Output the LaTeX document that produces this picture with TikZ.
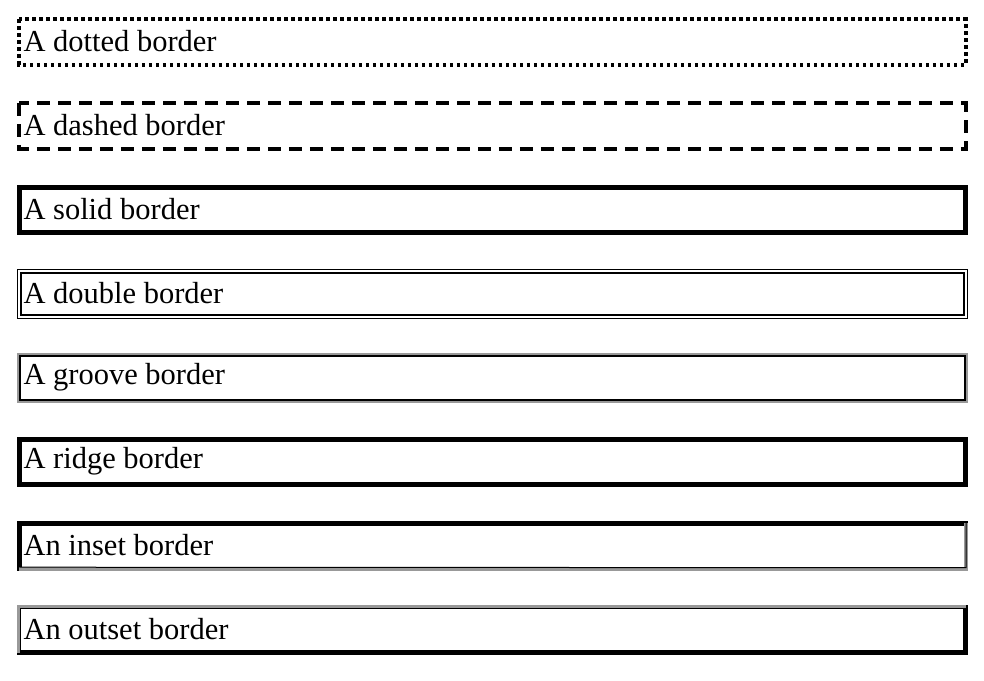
\documentclass[tikz,border=0pt]{standalone}
\usepackage{fontspec}
\setmainfont{Liberation Serif}
\usetikzlibrary{positioning}

\tikzset{
  cssbox/.style={minimum width=946pt, minimum height=45pt, inner sep=0pt},
  boxtext/.style={anchor=west, font=\fontsize{30.5}{32}\selectfont, inner sep=0pt},
  grayline/.style={draw=black!40}
}

\begin{document}
\begin{tikzpicture}[x=1pt,y=-1pt]
\useasboundingbox (0,0) rectangle (984,680);
\foreach \i in {0,...,7} {
  \node[cssbox] (b\i) at (492.5,{42+84*\i}) {};
}
\draw[line width=4pt, dash pattern=on 3.5pt off 3.5pt] (b0.north west) rectangle (b0.south east);
\draw[line width=4pt, dash pattern=on 13pt off 8pt] (b1.north west) rectangle (b1.south east);
\draw[line width=5pt] (b2.north west) rectangle (b2.south east);
\draw[line width=1.6pt, double, double distance=1.8pt] (b3.north west) rectangle (b3.south east);
% groove
\draw[grayline, line width=2pt] ([shift={(-1.5,-1.5)}]b4.north west) rectangle ([shift={(1.5,1.5)}]b4.south east);
\draw[line width=2pt] ([shift={(1,1)}]b4.north west) rectangle ([shift={(-1,-1)}]b4.south east);
% ridge
\draw[line width=4.5pt] (b5.north west) rectangle (b5.south east);
% inset
\draw[line width=5pt, line cap=rect] (b6.south west) -- (b6.north west) -- (b6.north east);
\draw[grayline, line width=4pt] (b6.north east) -- (b6.south east) -- (b6.south west);
\draw[line width=1pt] ([shift={(0.5,-1)}]b6.north east) -- ([shift={(0.5,-1)}]b6.south east) -- ([shift={(0,-1.5)}]b6.south west);
% outset
\draw[line width=5pt, line cap=rect] (b7.south west) -- (b7.south east) -- (b7.north east);
\draw[grayline, line width=4pt] (b7.south west) -- (b7.north west) -- (b7.north east);
\draw[line width=1pt] ([shift={(1.5,0)}]b7.south west) -- ([shift={(1.5,1.5)}]b7.north west) -- ([shift={(0,1.5)}]b7.north east);
\node[boxtext] (t0) at ([xshift=4pt,yshift=1pt]b0.west) {A dotted border};
\node[boxtext] (t1) at ([xshift=4pt,yshift=1pt]b1.west) {A dashed border};
\node[boxtext] (t2) at ([xshift=4pt,yshift=1pt]b2.west) {A solid border};
\node[boxtext] (t3) at ([xshift=4pt,yshift=1pt]b3.west) {A double border};
\node[boxtext] (t4) at ([xshift=4pt,yshift=1pt]b4.west) {A groove border};
\node[boxtext] (t5) at ([xshift=4pt,yshift=1pt]b5.west) {A ridge border};
\node[boxtext] (t6) at ([xshift=4pt,yshift=1pt]b6.west) {An inset border};
\node[boxtext] (t7) at ([xshift=4pt,yshift=1pt]b7.west) {An outset border};
\end{tikzpicture}
\end{document}
